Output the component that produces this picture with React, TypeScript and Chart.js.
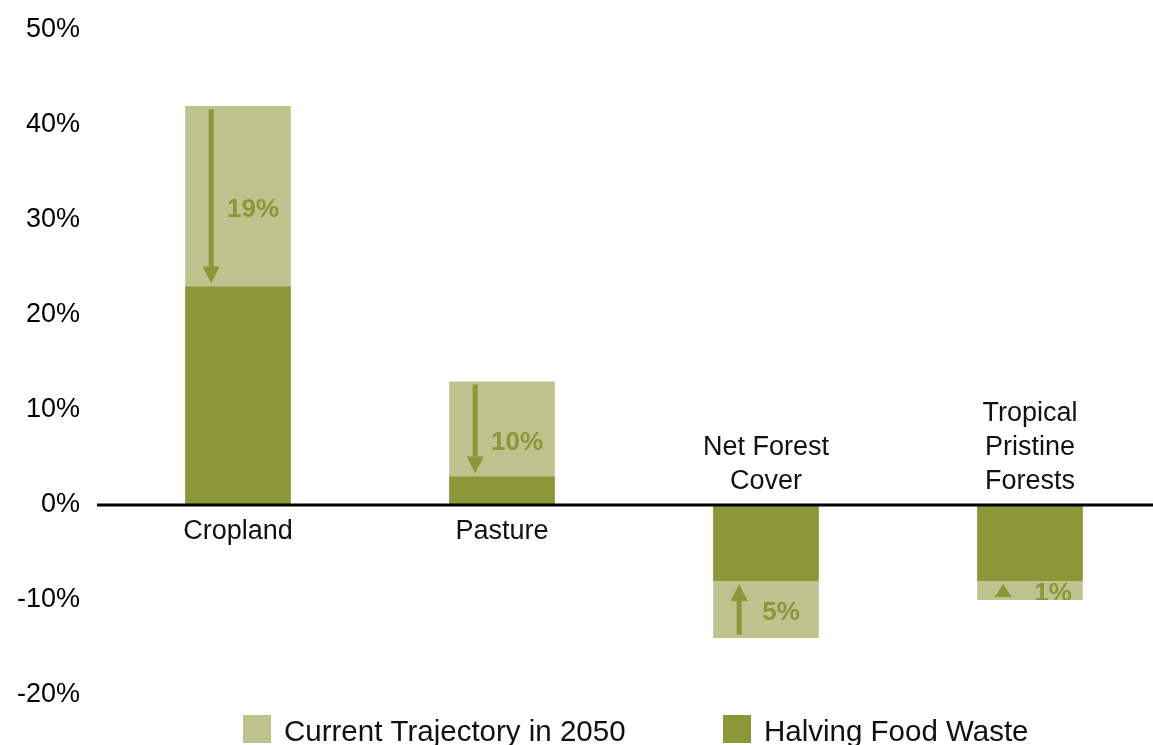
import React, { useEffect, useRef } from 'react';
import { Chart, registerables } from 'chart.js';

Chart.register(...registerables);

// ---- data ----
const categories: string[][] = [
  ['Cropland'],
  ['Pasture'],
  ['Net Forest', 'Cover'],
  ['Tropical', 'Pristine', 'Forests'],
];
const currentTrajectory = [42, 13, -14, -10];
const halvingFoodWaste = [23, 3, -8, -8];
const changeLabels = ['19%', '10%', '5%', '1%'];
const yTicks = [-20, -10, 0, 10, 20, 30, 40, 50];
const seriesNames = ['Current Trajectory in 2050', 'Halving Food Waste'];

// ---- style ----
const LIGHT = '#BDC38C';
const DARK = '#8B9738';
const FONT = '"Liberation Sans", Arial, Helvetica, sans-serif';

const annotate = {
  id: 'annotate',
  afterDatasetsDraw(chart: any) {
    const ctx: CanvasRenderingContext2D = chart.ctx;
    const ys = chart.scales.y;
    const y0 = ys.getPixelForValue(0);
    const metaCur = chart.getDatasetMeta(0);
    ctx.save();

    // zero line
    ctx.fillStyle = '#000';
    ctx.fillRect(97, Math.round(y0) - 1.5, chart.width - 97, 3);

    metaCur.data.forEach((bar: any, i: number) => {
      const { x, width } = bar.getProps(['x', 'width'], true);
      const left = x - width / 2;
      const yCur = ys.getPixelForValue(currentTrajectory[i]);
      const yHalf = ys.getPixelForValue(halvingFoodWaste[i]);
      const dir = yHalf > yCur ? 1 : -1; // 1: arrow points down
      const ax = left + 26;
      const start = yCur + dir * 3;
      const tip = yHalf - dir * 3;
      const head = 17;
      const headW = 17;
      const shaft = 5;
      const len = Math.abs(tip - start);
      ctx.fillStyle = DARK;
      let baseY = start;
      if (len > head) {
        baseY = tip - dir * head;
        ctx.fillRect(ax - shaft / 2, Math.min(start, baseY), shaft, Math.abs(baseY - start));
      }
      ctx.beginPath();
      ctx.moveTo(ax - headW / 2, baseY);
      ctx.lineTo(ax + headW / 2, baseY);
      ctx.lineTo(ax, tip);
      ctx.closePath();
      ctx.fill();

      // change label, clipped to the light region
      ctx.save();
      ctx.beginPath();
      ctx.rect(left, Math.min(yCur, yHalf), width, Math.abs(yHalf - yCur));
      ctx.clip();
      ctx.font = `bold 26px ${FONT}`;
      ctx.textAlign = 'center';
      ctx.textBaseline = 'middle';
      const shortRange = len <= head;
      const mid = (yCur + yHalf) / 2 + (dir > 0 ? 14 : 3);
      ctx.fillText(changeLabels[i], x + (shortRange ? 23 : 15), mid);
      ctx.restore();

      // category label
      ctx.fillStyle = '#111';
      ctx.font = `27px ${FONT}`;
      ctx.textAlign = 'center';
      ctx.textBaseline = 'middle';
      const lines = categories[i];
      if (currentTrajectory[i] >= 0) {
        lines.forEach((t, k) => ctx.fillText(t, x, y0 + 27 + k * 34));
      } else {
        const n = lines.length;
        lines.forEach((t, k) => ctx.fillText(t, x, y0 - 23 - (n - 1 - k) * 34));
      }
    });
    ctx.restore();
  },
  afterDraw(chart: any) {
    const ctx: CanvasRenderingContext2D = chart.ctx;
    const boxX = [243, 723];
    ctx.save();
    chart.data.datasets.forEach((ds: any, k: number) => {
      ctx.fillStyle = ds.backgroundColor;
      ctx.fillRect(boxX[k], 715, 28, 28);
      ctx.fillStyle = '#111';
      ctx.font = `29.5px ${FONT}`;
      ctx.textAlign = 'left';
      ctx.textBaseline = 'alphabetic';
      ctx.fillText(ds.label, boxX[k] + 41, 741);
    });
    ctx.restore();
  },
};

export default function App() {
  const ref = useRef<HTMLCanvasElement>(null);
  useEffect(() => {
    const chart = new Chart(ref.current as HTMLCanvasElement, {
      type: 'bar',
      data: {
        datasets: [
          {
            label: seriesNames[0],
            data: currentTrajectory.map((v, i) => ({ x: i, y: v })),
            backgroundColor: LIGHT,
            grouped: false,
            order: 2,
            barPercentage: 0.4,
            categoryPercentage: 1,
          } as any,
          {
            label: seriesNames[1],
            data: halvingFoodWaste.map((v, i) => ({ x: i, y: v })),
            backgroundColor: DARK,
            grouped: false,
            order: 1,
            barPercentage: 0.4,
            categoryPercentage: 1,
          } as any,
        ],
      },
      options: {
        responsive: false,
        animation: false,
        layout: { padding: { top: 30, bottom: 50, left: 0, right: 0 } },
        plugins: { legend: { display: false }, tooltip: { enabled: false } },
        scales: {
          x: {
            type: 'linear',
            display: false,
            min: -0.5,
            max: 3.466,
            offset: false,
            afterBuildTicks: (s: any) => {
              s.ticks = categories.map((_, i) => ({ value: i }));
            },
          },
          y: {
            min: -20,
            max: 50,
            afterBuildTicks: (s: any) => {
              s.ticks = yTicks.map((v) => ({ value: v }));
            },
            afterFit: (s: any) => {
              s.width = 106;
              s.paddingTop = 0;
              s.paddingBottom = 0;
            },
            grid: { display: false, drawTicks: false, tickLength: 0 },
            border: { display: false },
            ticks: {
              padding: 26,
              color: '#000',
              font: { family: FONT, size: 27 },
              callback: (v: any) => `${v}%`,
            },
          },
        },
      } as any,
      plugins: [annotate],
    });
    return () => chart.destroy();
  }, []);
  return (
    <div style={{ position: 'fixed', left: 0, top: 0, width: 1153, height: 745, background: '#fff' }}>
      <canvas ref={ref} width={1153} height={745} style={{ display: 'block' }} />
    </div>
  );
}
